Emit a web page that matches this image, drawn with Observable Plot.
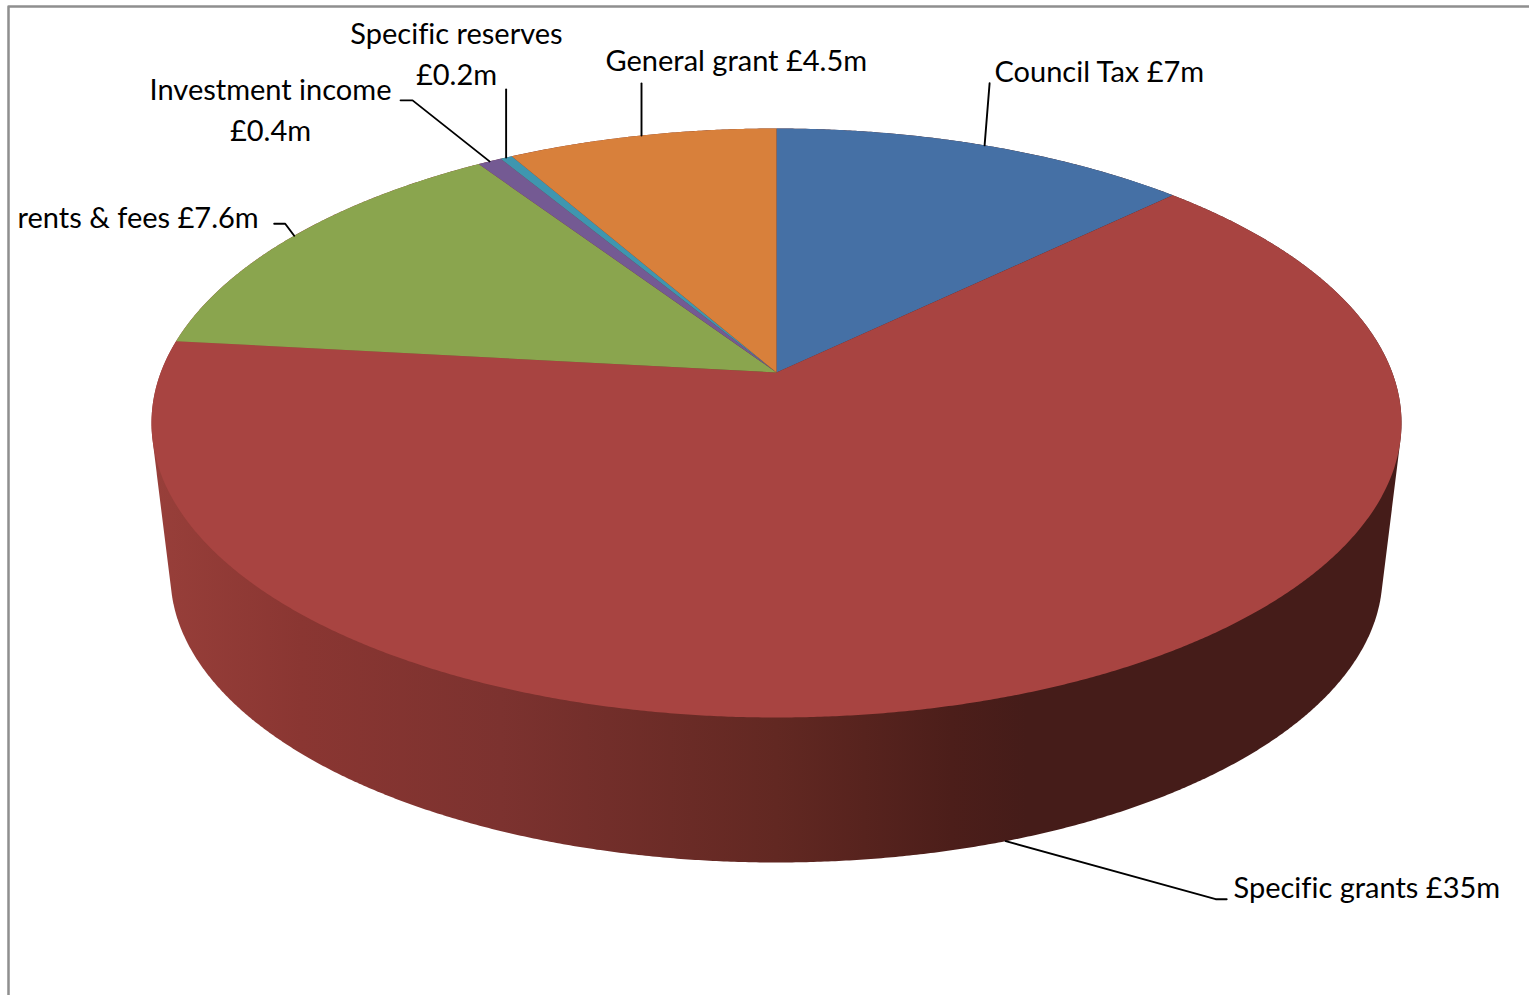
<!DOCTYPE html>
<html>
<head>
<meta charset="utf-8">
<style>
  html, body { margin: 0; padding: 0; background: #fff; overflow: hidden; }
  svg { display: block; }
  svg text { font-variant-ligatures: none; }
</style>
<script src="https://cdn.jsdelivr.net/npm/d3@7"></script>
<script src="https://cdn.jsdelivr.net/npm/@observablehq/plot@0.6"></script>
</head>
<body>
<script>
// Income sources in £m, clockwise from twelve o'clock
const sources = ["Council Tax", "Specific grants", "rents & fees", "Investment income", "Specific reserves", "General grant"];
const amounts = [7, 35, 7.6, 0.4, 0.2, 4.5];
const sliceColors = ["#4570a5", "#a84441", "#8aa54e", "#745a93", "#3f96af", "#d8803b"];

// Shading of the pie's outer wall, left to right
const wallOffsets = [0, 0.12, 0.28, 0.5, 0.64, 0.7, 1];
const wallColors = ["#983f3a", "#8a3632", "#7c322f", "#622822", "#4c1e1a", "#451c19", "#451c19"];

// Pie geometry in chart units
const cx = 776, apexY = 372, farRadius = 244, nearRadius = 345, halfWidth = 625;
const tilt = (nearRadius - farRadius) / (nearRadius + farRadius);
const depthScale = farRadius * (1 + tilt);
const widthScale = halfWidth * Math.sqrt(1 - tilt * tilt);

// Point on the top rim for a clockwise angle from twelve o'clock
function rim(angle) {
  const w = 1 + tilt * Math.cos(angle);
  return { x: cx + widthScale * Math.sin(angle) / w, y: apexY - depthScale * Math.cos(angle) / w };
}
// The same angle on the bottom rim
const topMidY = 422.5, bottomMidY = 575, bottomXScale = 606 / 625, bottomYScale = 287 / 294.5;
function lowerRim(angle) {
  const p = rim(angle);
  return { x: cx + (p.x - cx) * bottomXScale, y: bottomMidY + (p.y - topMidY) * bottomYScale };
}

const total = d3.sum(amounts);
const ends = d3.cumsum(amounts).map(v => v / total * 2 * Math.PI);
const starts = [0, ...ends.slice(0, -1)];

// One closed polygon per slice
const slicePoints = sources.flatMap((source, i) => {
  const steps = Math.max(2, Math.ceil((ends[i] - starts[i]) / 0.005));
  const arc = d3.range(steps + 1).map(k => rim(starts[i] + (ends[i] - starts[i]) * k / steps));
  return [{ x: cx, y: apexY }, ...arc].map(p => ({ ...p, source, color: sliceColors[i] }));
});

// Outline of the solid: hull of both rims
const ringAngles = d3.range(0, 2 * Math.PI, 0.005);
const hull = d3.polygonHull(ringAngles.flatMap(a => [rim(a), lowerRim(a)]).map(p => [p.x, p.y]));

// Labels and leader lines; leader bends are offsets from the rim point
const labelLayout = [
  { x: 994, y: 68, anchor: "start", bends: [[5, -62]] },
  { x: 1233, y: 884, anchor: "start", bends: [[210, 58], [221, 58]], onLowerRim: true },
  { x: 17, y: 214, anchor: "start", bends: [[-9, -12], [-20, -12]] },
  { x: 270, y: 107, anchor: "middle", bends: [[-77, -61], [-89, -61]], wrap: true },
  { x: 456, y: 51, anchor: "middle", bends: [[0, -68]], wrap: true },
  { x: 605, y: 57, anchor: "start", bends: [[0, -52]] }
];

const labels = sources.map((source, i) => ({
  text: `${source}${labelLayout[i].wrap ? "\n" : " "}£${amounts[i]}m`,
  x: labelLayout[i].x,
  y: labelLayout[i].y,
  anchor: labelLayout[i].anchor
}));

const leaders = sources.flatMap((source, i) => {
  const mid = (starts[i] + ends[i]) / 2;
  const from = labelLayout[i].onLowerRim ? lowerRim(mid) : rim(mid);
  return [from, ...labelLayout[i].bends.map(([dx, dy]) => ({ x: from.x + dx, y: from.y + dy }))]
    .map(p => ({ ...p, source }));
});

const frame = [{ x: 8, y: 995 }, { x: 8, y: 6 }, { x: 1529, y: 6 }];

const chart = Plot.plot({
  width: 1529,
  height: 995,
  margin: 0,
  x: { domain: [0, 1529], range: [0, 1529], axis: null },
  y: { domain: [0, 995], range: [0, 995], axis: null },
  style: { background: "#fff" },
  marks: [
    () => {
      const defs = d3.create("svg:defs");
      const gradient = defs.append("linearGradient").attr("id", "wall-shade");
      wallOffsets.forEach((offset, i) => {
        gradient.append("stop").attr("offset", offset).attr("stop-color", wallColors[i]);
      });
      return defs.node();
    },
    Plot.line(frame, { x: "x", y: "y", stroke: "#8f8f8f", strokeWidth: 2.5, curve: "linear" }),
    Plot.line(hull, { x: d => d[0], y: d => d[1], fill: "url(#wall-shade)", stroke: "none", curve: "linear-closed" }),
    Plot.line(slicePoints, { x: "x", y: "y", z: "source", fill: "color", stroke: "none", curve: "linear-closed" }),
    Plot.line(leaders, { x: "x", y: "y", z: "source", stroke: "#000", strokeWidth: 1.9, curve: "linear" }),
    Plot.text(labels.filter(d => d.anchor === "start"), {
      x: "x", y: "y", text: "text", textAnchor: "start",
      fontFamily: "Lato", fontSize: 29, fill: "#000", lineHeight: 1.41
    }),
    Plot.text(labels.filter(d => d.anchor === "middle"), {
      x: "x", y: "y", text: "text", textAnchor: "middle",
      fontFamily: "Lato", fontSize: 29, fill: "#000", lineHeight: 1.41
    })
  ]
});
document.body.append(chart);
</script>
</body>
</html>
